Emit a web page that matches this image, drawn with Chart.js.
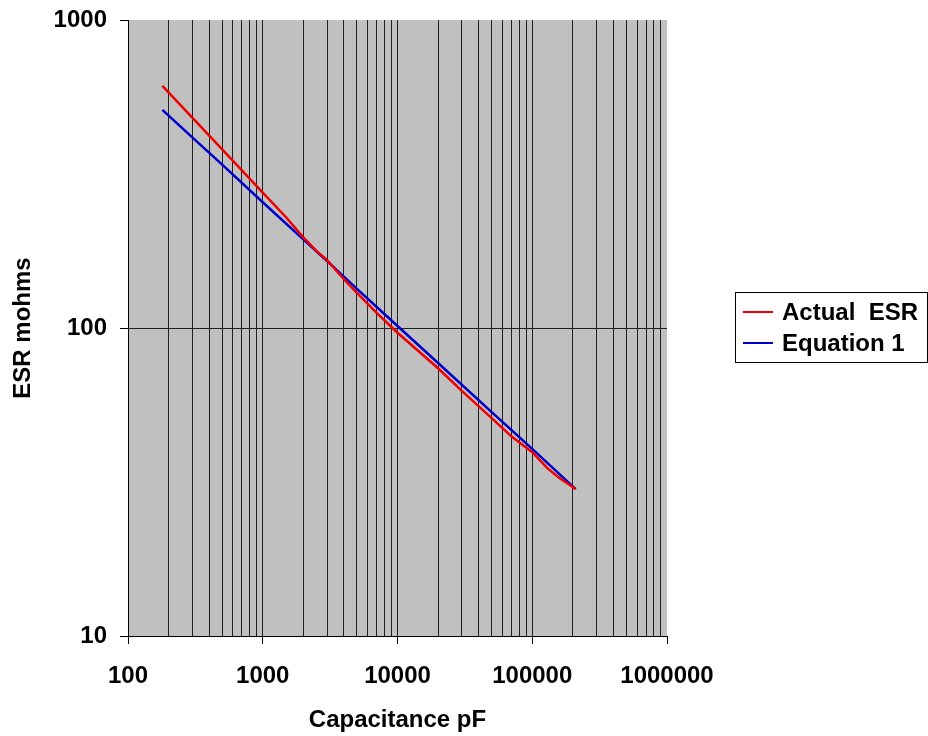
<!DOCTYPE html>
<html>
<head>
<meta charset="utf-8">
<script src="https://cdn.jsdelivr.net/npm/chart.js@4.4.0/dist/chart.umd.min.js"></script>
<style>
  body { margin: 0; background: #ffffff; }
  #wrap { width: 928px; height: 736px; }
</style>
</head>
<body>
<div id="wrap"><canvas id="chart1" width="928" height="736"></canvas></div>
<script>
// Dados
const capActual = [180, 300, 500, 700, 1000, 1500, 2000, 2500, 3000, 4000, 5000, 7000, 10000, 20000, 30000, 50000, 70000, 100000, 130000, 160000, 210000];
const esrActual = [611, 482, 380, 325, 275, 228, 197, 178, 166, 144, 130, 112, 96.5, 74, 62.5, 51, 44.5, 39.5, 35, 32.5, 30];

const capEquation = [180, 300, 500, 1000, 2000, 3000, 5000, 10000, 20000, 50000, 100000, 210000];
const esrEquation = [511, 416, 339, 256, 194, 165, 134, 101.5, 77, 53.3, 40.5, 30];

const xTickValues = [
    100, 200, 300, 400, 500, 600, 700, 800, 900,
    1000, 2000, 3000, 4000, 5000, 6000, 7000, 8000, 9000,
    10000, 20000, 30000, 40000, 50000, 60000, 70000, 80000, 90000,
    100000, 200000, 300000, 400000, 500000, 600000, 700000, 800000, 900000,
    1000000
];
const yTickValues = [10, 100, 1000];

const seriesNames = ['Actual  ESR', 'Equation 1'];
const seriesColors = ['#f00000', '#0000cc'];

const font = { family: '"Liberation Sans", Arial, sans-serif', size: 24, weight: 'bold' };

function isDecade(v) {
    const l = Math.log10(v);
    return Math.abs(l - Math.round(l)) < 1e-9;
}

function toPoints(xs, ys) {
    return xs.map(function(x, i) { return { x: x, y: ys[i] }; });
}

// Fundo cinza da área do gráfico
const plotBackground = {
    id: 'plotBackground',
    beforeDraw: function(chart) {
        const c = chart.ctx, a = chart.chartArea;
        c.save();
        c.fillStyle = '#ffffff';
        c.fillRect(0, 0, chart.width, chart.height);
        c.fillStyle = '#c0c0c0';
        c.fillRect(a.left, a.top, a.right - a.left, a.bottom - a.top);
        c.restore();
    }
};

// Legenda com moldura, à direita
const boxedLegend = {
    id: 'boxedLegend',
    afterDraw: function(chart) {
        const c = chart.ctx;
        const x0 = 735, y0 = 292, w = 192, h = 70;
        c.save();
        c.strokeStyle = '#000000';
        c.lineWidth = 1;
        c.strokeRect(x0 + 0.5, y0 + 0.5, w, h);
        c.font = 'bold 24px "Liberation Sans", Arial, sans-serif';
        c.textBaseline = 'middle';
        chart.data.datasets.forEach(function(ds, i) {
            const y = y0 + 20 + i * 31;
            c.strokeStyle = ds.borderColor;
            c.lineWidth = 2;
            c.beginPath();
            c.moveTo(x0 + 8, y);
            c.lineTo(x0 + 38, y);
            c.stroke();
            c.fillStyle = '#000000';
            c.fillText(ds.label, x0 + 47, y + 1);
        });
        c.restore();
    }
};

const config1 = {
    type: 'line',
    data: {
        datasets: [{
            label: seriesNames[0],
            data: toPoints(capActual, esrActual),
            borderColor: seriesColors[0],
            borderWidth: 2.5,
            pointRadius: 0,
            tension: 0
        }, {
            label: seriesNames[1],
            data: toPoints(capEquation, esrEquation),
            borderColor: seriesColors[1],
            borderWidth: 2.5,
            pointRadius: 0,
            tension: 0
        }]
    },
    options: {
        responsive: false,
        animation: false,
        layout: { padding: { left: 0, top: 20, right: 261, bottom: 0 } },
        plugins: {
            legend: { display: false },
            tooltip: { enabled: false }
        },
        scales: {
            x: {
                type: 'logarithmic',
                min: 100,
                max: 1000000,
                afterBuildTicks: function(scale) {
                    scale.ticks = xTickValues.map(function(v) { return { value: v }; });
                },
                afterFit: function(scale) { scale.height = 100; },
                grid: {
                    color: function(ctx) {
                        if (ctx.tick && (ctx.tick.value === 100 || ctx.tick.value === 1000000)) return 'rgba(0,0,0,0)';
                        return '#202020';
                    },
                    tickColor: function(ctx) {
                        return ctx.tick && isDecade(ctx.tick.value) ? '#000000' : 'rgba(0,0,0,0)';
                    },
                    lineWidth: 1,
                    tickLength: 8
                },
                border: { display: true, color: '#000000', width: 1 },
                ticks: {
                    autoSkip: false,
                    maxRotation: 0,
                    padding: 18,
                    color: '#000000',
                    font: font,
                    callback: function(value) { return isDecade(value) ? String(value) : ''; }
                },
                title: {
                    display: true,
                    text: 'Capacitance pF',
                    color: '#000000',
                    font: font,
                    padding: { top: 0, bottom: 1 }
                }
            },
            y: {
                type: 'logarithmic',
                min: 10,
                max: 1000,
                afterBuildTicks: function(scale) {
                    scale.ticks = yTickValues.map(function(v) { return { value: v }; });
                },
                afterFit: function(scale) {
                    scale.width = 128;
                    scale.paddingTop = 0;
                    scale.paddingBottom = 0;
                },
                grid: {
                    color: function(ctx) {
                        return ctx.tick && ctx.tick.value === 100 ? '#202020' : 'rgba(0,0,0,0)';
                    },
                    tickColor: '#000000',
                    lineWidth: 1,
                    tickLength: 8
                },
                border: { display: true, color: '#000000', width: 1 },
                ticks: {
                    autoSkip: false,
                    padding: 13,
                    color: '#000000',
                    font: font,
                    callback: function(value) { return String(value); }
                },
                title: {
                    display: true,
                    text: 'ESR mohms',
                    color: '#000000',
                    font: font,
                    padding: { top: 9, bottom: 0 }
                }
            }
        }
    },
    plugins: [plotBackground, boxedLegend]
};

const chart1 = new Chart(document.getElementById('chart1'), config1);
</script>
</body>
</html>
